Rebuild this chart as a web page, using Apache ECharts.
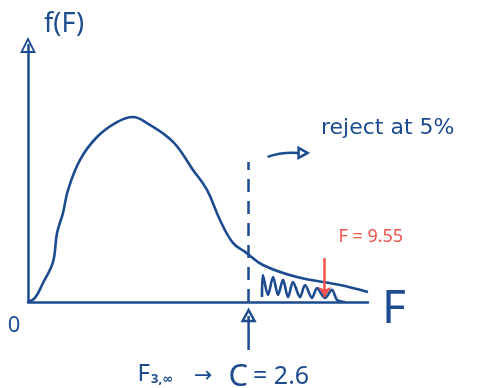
<!DOCTYPE html>
<html>
<head>
<meta charset="utf-8">
<script src="https://cdn.jsdelivr.net/npm/echarts@6/dist/echarts.min.js"></script>
<style>
  html, body { margin: 0; padding: 0; background: #ffffff; }
  #chart { width: 477px; height: 388px; }
</style>
</head>
<body>
<div id="chart"></div>
<script>
// F(3, ∞) density sketch: F values (log-spaced axis) and density heights
const curveF = [0.06, 0.0676, 0.0775, 0.092, 0.0985, 0.109, 0.119, 0.146, 0.195, 0.2745,
  0.361, 0.458, 0.715, 1.006, 1.277, 1.595, 1.99, 2.45, 3.32, 5.95, 12.4, 20];
const curveDensity = [0, 0.016, 0.074, 0.156, 0.268, 0.346, 0.436, 0.553, 0.642, 0.700,
  0.720, 0.696, 0.623, 0.514, 0.436, 0.319, 0.230, 0.195, 0.144, 0.097, 0.066, 0.039];

// hand-shaded rejection region under the tail
const hatchF = [3.27, 3.32, 3.62, 3.95, 4.30, 4.68, 5.10, 5.55, 6.26, 6.82, 7.68, 8.37,
  9.59, 10.8, 11.8, 13.5];
const hatchDensity = [0.019, 0.105, 0.027, 0.097, 0.027, 0.086, 0.019, 0.078, 0.019, 0.066,
  0.016, 0.054, 0.016, 0.047, 0.008, 0];

const criticalValue = 2.6;      // C for F(3, ∞) at 5%
const criticalLineTop = 0.545;  // height of the dashed boundary
const observedF = 9.55;
const observedArrow = [0.171, 0.019];

const axisTitleY = 'f(F)';
const axisTitleX = 'F';
const originLabel = '0';
const rejectText = 'reject at 5%';
const observedText = 'F = 9.55';

const INK = '#1c4b8f';
const RED = '#f0514c';
const FONT = '"Noto Sans", "DejaVu Sans", sans-serif';
const WIDE = '"DejaVu Sans", "Noto Sans", sans-serif';

const openArrow = 'path://M0,16 L8,0 L16,16 Z M3,14 L13,14 L8,4 Z';

const chart = echarts.init(document.getElementById('chart'), null, { renderer: 'canvas' });

const option = {
  animation: false,
  backgroundColor: '#ffffff',
  grid: { left: 28, right: 109, top: 45, bottom: 86, containLabel: false },
  xAxis: {
    type: 'log',
    min: 0.06,
    max: 20,
    axisLine: { show: true, onZero: false, lineStyle: { color: INK, width: 2.5 } },
    axisTick: { show: false },
    axisLabel: { show: false },
    splitLine: { show: false }
  },
  yAxis: {
    type: 'value',
    min: 0,
    max: 1,
    axisLine: {
      show: true, onZero: false,
      symbol: ['none', openArrow],
      symbolSize: [16, 16],
      lineStyle: { color: INK, width: 2.5 }
    },
    axisTick: { show: false },
    axisLabel: { show: false },
    splitLine: { show: false }
  },
  series: [
    {
      type: 'line',
      data: curveF.map((f, i) => [f, curveDensity[i]]),
      smooth: 0.4,
      symbol: 'none',
      lineStyle: { color: INK, width: 2.6 },
      markLine: {
        silent: true,
        symbol: 'none',
        label: { show: false },
        lineStyle: { color: INK, width: 2.5, type: [13, 9] },
        data: [[{ coord: [criticalValue, 0] }, { coord: [criticalValue, criticalLineTop] }]]
      }
    },
    {
      type: 'line',
      data: hatchF.map((f, i) => [f, hatchDensity[i]]),
      smooth: 0.3,
      symbol: 'none',
      lineStyle: { color: INK, width: 2.6 },
      z: 3,
      markLine: {
        silent: true,
        symbol: ['none', 'arrow'],
        symbolSize: [10, 10],
        label: { show: false },
        lineStyle: { color: RED, width: 2.5, type: 'solid' },
        data: [[{ coord: [observedF, observedArrow[0]] }, { coord: [observedF, observedArrow[1]] }]]
      }
    }
  ]
};

chart.setOption(option);

// annotations anchored to axis positions
const origin = chart.convertToPixel({ xAxisIndex: 0, yAxisIndex: 0 }, [0.06, 0]);
const cPix = chart.convertToPixel({ xAxisIndex: 0, yAxisIndex: 0 }, [criticalValue, 0]);
const cTop = chart.convertToPixel({ xAxisIndex: 0, yAxisIndex: 0 }, [criticalValue, criticalLineTop]);
const obsPix = chart.convertToPixel({ xAxisIndex: 0, yAxisIndex: 0 }, [observedF, observedArrow[0]]);
const xEnd = chart.convertToPixel({ xAxisIndex: 0, yAxisIndex: 0 }, [20, 0]);

const cx = cPix[0];
const baseY = cPix[1];

chart.setOption({
  graphic: [
    { type: 'text', left: 44, top: 11,
      style: { text: axisTitleY, font: '27px ' + FONT, fill: INK } },
    { type: 'text', x: origin[0] - 14, y: origin[1] + 24,
      style: { text: originLabel, font: '22px ' + FONT, fill: INK, align: 'center', verticalAlign: 'middle' } },
    { type: 'text', x: xEnd[0] + 26, y: baseY + 8,
      style: { text: axisTitleX, font: '46px ' + FONT, fill: INK, align: 'center', verticalAlign: 'middle' } },
    { type: 'text', x: 321, y: cTop[1] - 34,
      style: { text: rejectText, font: '22px ' + WIDE, fill: INK, align: 'left', verticalAlign: 'middle' } },
    // curved pointer towards the rejection side
    { type: 'bezierCurve',
      shape: { x1: cx + 19, y1: cTop[1] - 5, cpx1: cx + 32, cpy1: cTop[1] - 10, x2: cx + 50, y2: cTop[1] - 9 },
      style: { stroke: INK, lineWidth: 2.5, fill: null } },
    { type: 'polygon',
      shape: { points: [[cx + 50, cTop[1] - 14], [cx + 59, cTop[1] - 9], [cx + 50, cTop[1] - 4]] },
      style: { stroke: INK, lineWidth: 2.5, fill: null } },
    // pointer from below to the critical value
    { type: 'line', shape: { x1: cx, y1: baseY + 48, x2: cx, y2: baseY + 14 },
      style: { stroke: INK, lineWidth: 2.5 } },
    { type: 'polygon',
      shape: { points: [[cx - 6, baseY + 19], [cx, baseY + 8], [cx + 6, baseY + 19]] },
      style: { stroke: INK, lineWidth: 2.5, fill: null } },
    { type: 'text', x: cx - 111, y: baseY + 72,
      style: {
        text: '{f|F}{s|3,∞}{a|→}{c|C}{e|= 2.6}',
        fill: INK, align: 'left', verticalAlign: 'middle',
        rich: {
          f: { font: '24px ' + FONT, fill: INK },
          s: { font: 'bold 13px ' + FONT, fill: INK, padding: [10, 0, 0, 1] },
          a: { font: '22px ' + FONT, fill: INK, padding: [4, 16, 0, 21] },
          c: { font: '31px ' + FONT, fill: INK, padding: [6, 5, 0, 0] },
          e: { font: '25px ' + FONT, fill: INK, padding: [6, 0, 0, 0] }
        }
      } },
    { type: 'text', x: obsPix[0] + 46, y: obsPix[1] - 21,
      style: { text: observedText, font: '18px ' + FONT, fill: RED, align: 'center', verticalAlign: 'middle' } }
  ]
});
</script>
</body>
</html>
